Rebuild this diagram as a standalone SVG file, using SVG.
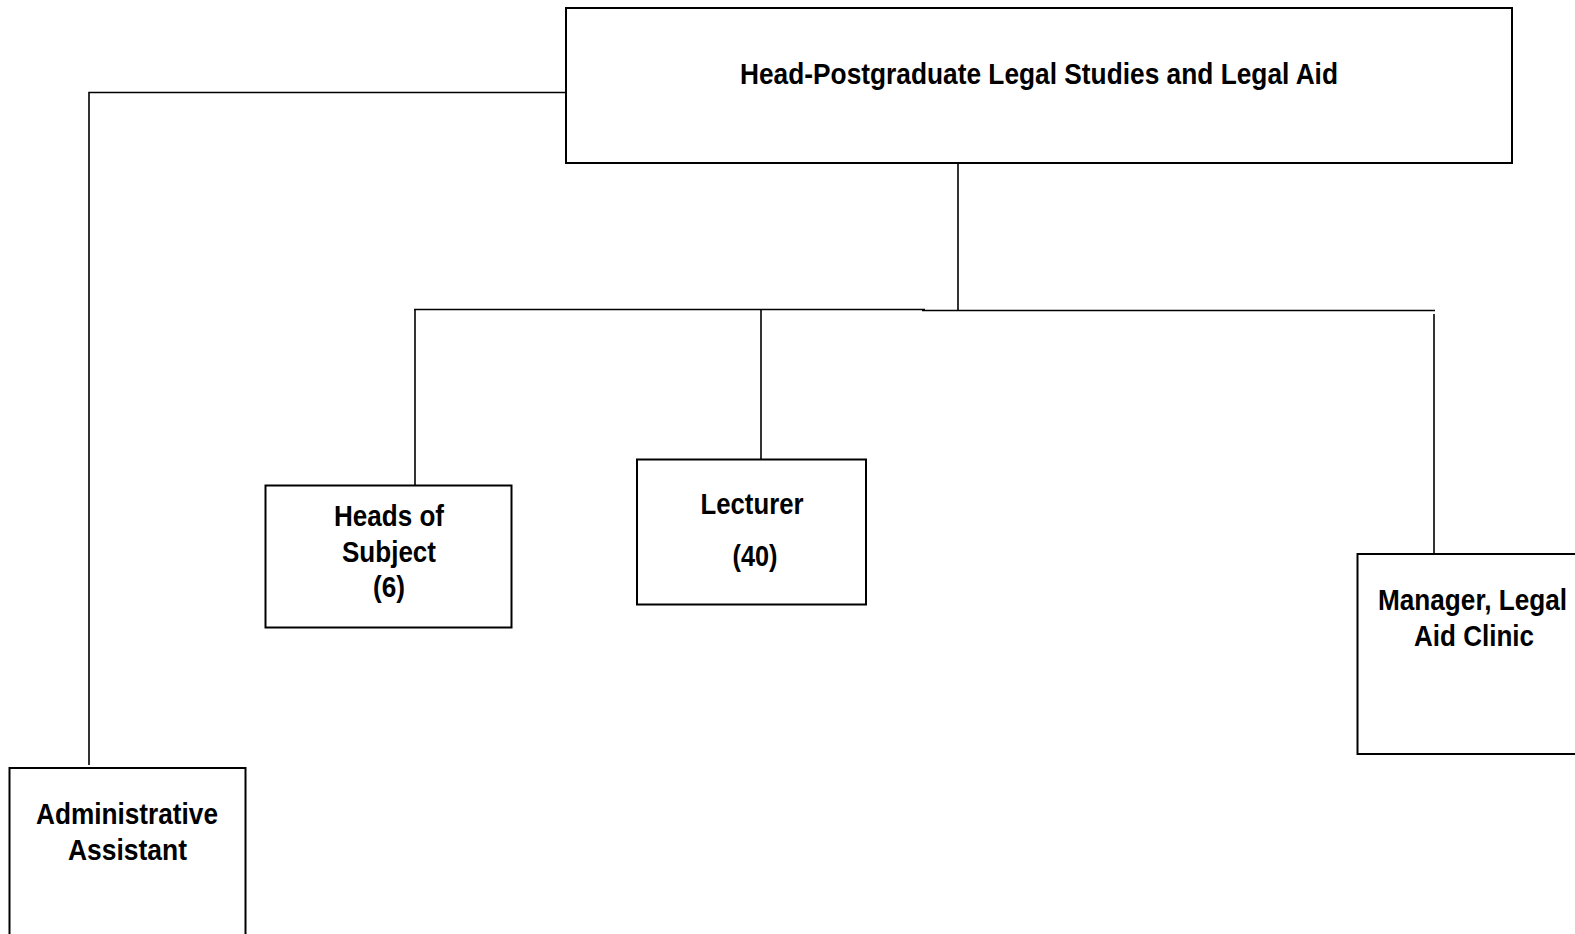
<svg xmlns="http://www.w3.org/2000/svg" width="1575" height="934" viewBox="0 0 1575 934">
<style>
.box{fill:#fff;stroke:#000;stroke-width:2}
.con{fill:none;stroke:#000;stroke-width:1.6}
.t{font-family:"Liberation Sans Narrow","Arial Narrow","Liberation Sans",sans-serif;font-weight:bold;font-size:29px;fill:#000;text-anchor:middle}
</style>
<rect width="1575" height="934" fill="#fff"/>
<g id="connectors">
<polyline class="con" points="566,92.5 89,92.5 89,765"/>
<line class="con" x1="958" y1="163" x2="958" y2="310"/>
<line class="con" x1="414" y1="309.5" x2="925" y2="309.5"/>
<line class="con" x1="922" y1="310.5" x2="1435" y2="310.5"/>
<line class="con" x1="415" y1="309.5" x2="415" y2="485"/>
<line class="con" x1="761" y1="309.5" x2="761" y2="459"/>
<line class="con" x1="1434" y1="314" x2="1434" y2="554"/>
</g>
<g id="head">
<rect class="box" x="566" y="8" width="946" height="155"/>
<text class="t" x="1039" y="84" textLength="598" lengthAdjust="spacingAndGlyphs">Head-Postgraduate Legal Studies and Legal Aid</text>
</g>
<g id="heads-of-subject">
<rect class="box" x="265.5" y="485.5" width="246" height="142"/>
<text class="t" x="389" y="526" textLength="110" lengthAdjust="spacingAndGlyphs">Heads of</text>
<text class="t" x="389" y="562" textLength="94" lengthAdjust="spacingAndGlyphs">Subject</text>
<text class="t" x="389" y="597" textLength="32" lengthAdjust="spacingAndGlyphs">(6)</text>
</g>
<g id="lecturer">
<rect class="box" x="637" y="459.5" width="229" height="145"/>
<text class="t" x="752" y="514" textLength="103" lengthAdjust="spacingAndGlyphs">Lecturer</text>
<text class="t" x="755" y="566" textLength="45" lengthAdjust="spacingAndGlyphs">(40)</text>
</g>
<g id="manager">
<rect class="box" x="1357.5" y="554" width="230" height="200"/>
<text class="t" x="1472.5" y="610" textLength="189" lengthAdjust="spacingAndGlyphs">Manager, Legal</text>
<text class="t" x="1474" y="646" textLength="120" lengthAdjust="spacingAndGlyphs">Aid Clinic</text>
</g>
<g id="admin">
<rect class="box" x="9.5" y="768" width="236" height="180"/>
<text class="t" x="127" y="824" textLength="182" lengthAdjust="spacingAndGlyphs">Administrative</text>
<text class="t" x="127.5" y="860" textLength="119" lengthAdjust="spacingAndGlyphs">Assistant</text>
</g>
</svg>
